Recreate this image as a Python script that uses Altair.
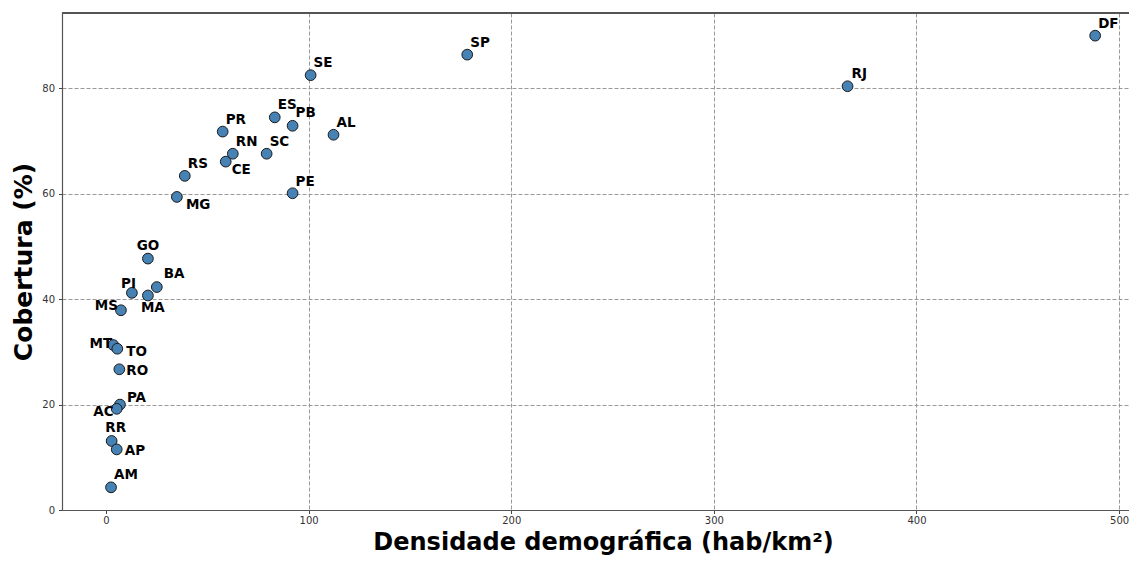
import altair as alt
import pandas as pd

states = ["DF", "SP", "RJ", "SE", "ES", "PB", "AL", "PR", "RN", "SC", "CE", "RS", "MG", "PE",
          "GO", "BA", "PI", "MA", "MS", "MT", "TO", "RO", "PA", "AC", "RR", "AP", "AM"]
density = [488.2, 178.3, 366.0, 101.0, 83.3, 92.1, 112.3, 57.6, 62.6, 79.3, 59.1, 38.9, 35.0, 92.1,
           20.7, 25.1, 12.8, 20.7, 7.4, 3.6, 5.6, 6.6, 6.9, 5.3, 2.8, 5.3, 2.5]
coverage = [90.0, 86.4, 80.4, 82.5, 74.5, 72.9, 71.2, 71.8, 67.6, 67.6, 66.1, 63.4, 59.4, 60.1,
            47.7, 42.3, 41.2, 40.7, 37.9, 31.3, 30.6, 26.7, 20.0, 19.2, 13.1, 11.5, 4.3]

x_ticks = [0, 100, 200, 300, 400, 500]
y_ticks = [0, 20, 40, 60, 80]

# label placement (align, dx, dy) in pixels, style only
placement = {
    "DF": ("left", 3, -12), "SP": ("left", 3, -12), "RJ": ("left", 4, -12),
    "SE": ("left", 3, -12), "ES": ("left", 3, -12), "PB": ("left", 3, -13),
    "AL": ("left", 3, -12), "PR": ("left", 3, -12), "RN": ("left", 3, -12),
    "SC": ("left", 3, -12), "CE": ("left", 6, 8), "RS": ("left", 3, -12),
    "MG": ("left", 9, 8), "PE": ("left", 3, -11), "GO": ("center", 0, -13),
    "BA": ("left", 7, -13), "PI": ("right", 4, -9), "MA": ("left", -7, 13),
    "MS": ("right", -3, -4), "MT": ("right", -1, -1), "TO": ("left", 9, 3),
    "RO": ("left", 7, 2), "PA": ("left", 7, -7), "AC": ("right", -3, 3),
    "RR": ("center", 4, -13), "AP": ("left", 8, 2), "AM": ("left", 3, -12),
}

df = pd.DataFrame({"uf": states, "dens": density, "cob": coverage})

FONT = "DejaVu Sans"
W, H = 1067, 497

xscale = alt.Scale(domain=[-21.7, 504.9], nice=False, zero=False)
yscale = alt.Scale(domain=[0, 94.3], nice=False, zero=False)

xaxis = alt.Axis(
    values=x_ticks, title="Densidade demográfica (hab/km²)", format="d",
    titleFont=FONT, titleFontSize=24, titleFontWeight="bold", titleColor="#000",
    titleBaseline="alphabetic", titleY=39.5, titleX=541,
    labelFont=FONT, labelFontSize=10, labelColor="#333", labelPadding=2,
    tickSize=3.5, tickColor="#444", domainColor="#555", domainWidth=1.2,
    grid=True, gridColor="#999", gridDash=[4, 2], gridWidth=1,
    gridOpacity=alt.condition("datum.value == 0", alt.value(0), alt.value(1)),
)
yaxis = alt.Axis(
    values=y_ticks, title="Cobertura (%)", format="d",
    titleFont=FONT, titleFontSize=25, titleFontWeight="bold", titleColor="#000",
    titleBaseline="alphabetic", titleAngle=270, titleX=-31, titleY=H / 2,
    labelFont=FONT, labelFontSize=10, labelColor="#333", labelPadding=4,
    tickSize=3.5, tickColor="#444", domainColor="#555", domainWidth=1.2,
    grid=True, gridColor="#999", gridDash=[4, 2], gridWidth=1,
)

base = alt.Chart(df)

top_border = base.mark_rule(color="#555", strokeWidth=1.2).encode(y=alt.value(0))

points = base.mark_point(
    filled=True, shape="circle", size=115, color="#4682b4",
    stroke="#1a1a1a", strokeWidth=1, opacity=1
).encode(
    x=alt.X("dens:Q", scale=xscale, axis=xaxis),
    y=alt.Y("cob:Q", scale=yscale, axis=yaxis),
)

layers = [points, top_border]
groups = {}
for s in states:
    groups.setdefault(placement[s], []).append(s)
for (align, dx, dy), names in groups.items():
    t = base.transform_filter(
        alt.FieldOneOfPredicate(field="uf", oneOf=names)
    ).mark_text(
        align=align, baseline="middle", dx=dx, dy=dy,
        font=FONT, fontSize=13.5, fontWeight="bold", color="#000"
    ).encode(
        x=alt.X("dens:Q", scale=xscale),
        y=alt.Y("cob:Q", scale=yscale),
        text="uf:N",
    )
    layers.append(t)

chart = alt.layer(*layers).properties(
    width=W, height=H,
    autosize=alt.AutoSizeParams(type="none"),
    padding={"left": 54, "top": 5, "right": 0, "bottom": 45},
).configure_view(stroke=None).configure(background="white")

chart.save("out.html", embed_options={"renderer": "svg", "actions": False})
